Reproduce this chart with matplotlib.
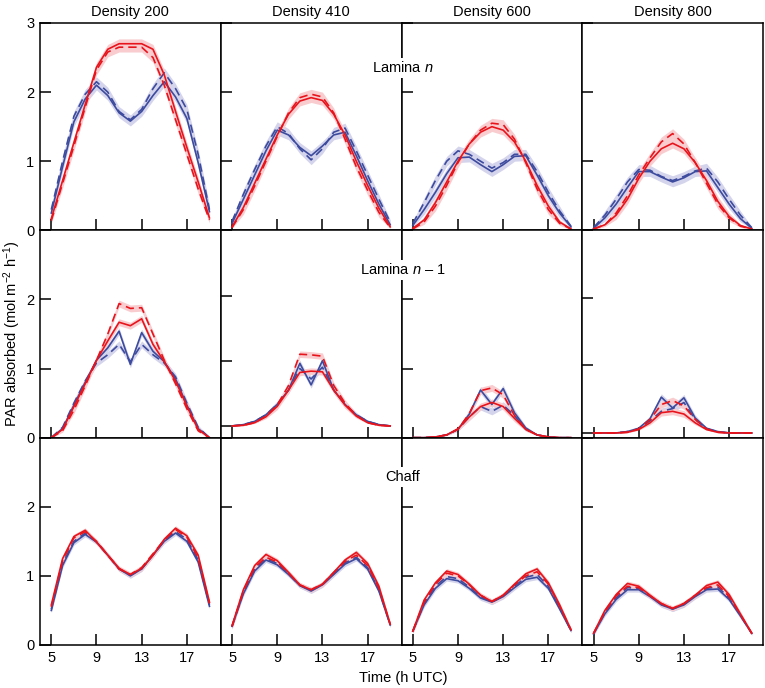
import numpy as np
import matplotlib
matplotlib.use("Agg")
import matplotlib.pyplot as plt

plt.rcParams['font.family'] = ['Liberation Sans', 'DejaVu Sans']
plt.rcParams['mathtext.fontset'] = 'custom'
plt.rcParams['mathtext.rm'] = 'Liberation Sans'
plt.rcParams['mathtext.it'] = 'Liberation Sans:italic'
plt.rcParams['font.size'] = 10.5

hours = list(range(5, 20))
densities = ['Density 200', 'Density 410', 'Density 600', 'Density 800']
row_labels = ['Lamina $n$', 'Lamina $n$ \u2013 1', 'Chaff']

# Lamina n, one list per density
lam_n_red = [
    [0.17, 0.72, 1.27, 1.82, 2.36, 2.62, 2.7, 2.7, 2.7, 2.62, 2.25, 1.72, 1.2, 0.7, 0.18],
    [0.05, 0.33, 0.68, 1.03, 1.38, 1.68, 1.87, 1.92, 1.88, 1.68, 1.38, 1.0, 0.65, 0.32, 0.05],
    [0.03, 0.15, 0.4, 0.7, 1.0, 1.25, 1.42, 1.5, 1.45, 1.28, 1.0, 0.65, 0.35, 0.12, 0.02],
    [0.02, 0.08, 0.22, 0.45, 0.75, 1.0, 1.18, 1.26, 1.18, 0.98, 0.72, 0.42, 0.2, 0.07, 0.02],
]
lam_n_red_dash = [
    [0.14, 0.68, 1.22, 1.78, 2.32, 2.58, 2.65, 2.65, 2.65, 2.5, 2.1, 1.6, 1.1, 0.6, 0.15],
    [0.04, 0.3, 0.64, 1.0, 1.36, 1.7, 1.92, 1.97, 1.93, 1.7, 1.32, 0.92, 0.58, 0.26, 0.04],
    [0.02, 0.12, 0.35, 0.65, 0.98, 1.25, 1.45, 1.55, 1.53, 1.32, 0.98, 0.6, 0.3, 0.1, 0.02],
    [0.02, 0.08, 0.25, 0.5, 0.8, 1.05, 1.28, 1.4, 1.25, 0.98, 0.68, 0.38, 0.18, 0.06, 0.02],
]
lam_n_blue = [
    [0.25, 0.92, 1.57, 1.9, 2.1, 1.95, 1.7, 1.58, 1.72, 1.95, 2.15, 1.93, 1.62, 0.98, 0.27],
    [0.1, 0.45, 0.8, 1.15, 1.45, 1.38, 1.2, 1.08, 1.22, 1.38, 1.42, 1.08, 0.72, 0.38, 0.08],
    [0.07, 0.3, 0.55, 0.82, 1.05, 1.06, 0.95, 0.85, 0.95, 1.07, 1.08, 0.8, 0.5, 0.25, 0.05],
    [0.03, 0.18, 0.38, 0.62, 0.85, 0.85, 0.77, 0.7, 0.76, 0.85, 0.86, 0.62, 0.38, 0.17, 0.03],
]
lam_n_blue_dash = [
    [0.3, 1.0, 1.65, 1.97, 2.15, 2.0, 1.72, 1.6, 1.75, 2.05, 2.28, 2.05, 1.75, 1.1, 0.3],
    [0.13, 0.52, 0.88, 1.22, 1.5, 1.4, 1.18, 1.02, 1.18, 1.42, 1.48, 1.15, 0.8, 0.45, 0.12],
    [0.1, 0.4, 0.72, 1.0, 1.15, 1.1, 1.0, 0.9, 0.98, 1.1, 1.1, 0.85, 0.55, 0.28, 0.06],
    [0.04, 0.22, 0.45, 0.7, 0.88, 0.87, 0.78, 0.72, 0.78, 0.86, 0.9, 0.7, 0.45, 0.22, 0.04],
]

# Lamina n-1
lam_n1_red = [
    [0, 0.12, 0.45, 0.78, 1.12, 1.4, 1.67, 1.62, 1.72, 1.35, 1.1, 0.82, 0.46, 0.12, 0],
    [0, 0.01, 0.05, 0.14, 0.3, 0.55, 0.82, 0.84, 0.83, 0.55, 0.32, 0.15, 0.05, 0.01, 0],
    [0, 0, 0.01, 0.04, 0.13, 0.3, 0.45, 0.51, 0.45, 0.28, 0.12, 0.04, 0.01, 0, 0],
    [0, 0, 0, 0.01, 0.05, 0.15, 0.3, 0.32, 0.28, 0.15, 0.05, 0.01, 0, 0, 0],
]
lam_n1_red_dash = [
    [0, 0.1, 0.4, 0.75, 1.12, 1.5, 1.94, 1.87, 1.88, 1.5, 1.12, 0.78, 0.42, 0.1, 0],
    [0, 0.01, 0.05, 0.15, 0.32, 0.62, 1.1, 1.09, 1.07, 0.62, 0.35, 0.16, 0.05, 0.01, 0],
    [0, 0, 0.01, 0.04, 0.12, 0.35, 0.68, 0.72, 0.62, 0.32, 0.12, 0.04, 0.01, 0, 0],
    [0, 0, 0, 0.01, 0.06, 0.2, 0.42, 0.48, 0.4, 0.2, 0.06, 0.01, 0, 0, 0],
]
lam_n1_blue = [
    [0, 0.13, 0.47, 0.8, 1.12, 1.3, 1.54, 1.06, 1.52, 1.25, 1.1, 0.85, 0.47, 0.13, 0],
    [0, 0.02, 0.07, 0.17, 0.33, 0.55, 0.96, 0.63, 1.0, 0.55, 0.33, 0.17, 0.07, 0.02, 0],
    [0, 0, 0.01, 0.04, 0.12, 0.34, 0.69, 0.48, 0.71, 0.36, 0.14, 0.04, 0.01, 0, 0],
    [0, 0, 0, 0.02, 0.07, 0.21, 0.53, 0.37, 0.52, 0.22, 0.07, 0.02, 0, 0, 0],
]
lam_n1_blue_dash = [
    [0, 0.15, 0.5, 0.82, 1.08, 1.2, 1.35, 1.1, 1.35, 1.2, 1.08, 0.88, 0.5, 0.15, 0],
    [0, 0.02, 0.07, 0.17, 0.33, 0.55, 0.88, 0.72, 0.9, 0.55, 0.33, 0.17, 0.07, 0.02, 0],
    [0, 0, 0.01, 0.04, 0.12, 0.3, 0.45, 0.38, 0.47, 0.32, 0.12, 0.04, 0.01, 0, 0],
    [0, 0, 0, 0.02, 0.06, 0.18, 0.32, 0.36, 0.45, 0.2, 0.06, 0.02, 0, 0, 0],
]

# Chaff
chaff_red = [
    [0.58, 1.25, 1.57, 1.66, 1.49, 1.3, 1.11, 1.02, 1.11, 1.3, 1.53, 1.69, 1.58, 1.3, 0.62],
    [0.28, 0.8, 1.15, 1.31, 1.22, 1.05, 0.87, 0.8, 0.88, 1.05, 1.23, 1.34, 1.18, 0.85, 0.3],
    [0.2, 0.65, 0.9, 1.07, 1.02, 0.88, 0.72, 0.63, 0.72, 0.88, 1.03, 1.1, 0.9, 0.58, 0.22],
    [0.17, 0.5, 0.73, 0.89, 0.85, 0.72, 0.6, 0.53, 0.6, 0.72, 0.86, 0.91, 0.73, 0.45, 0.17],
]
chaff_red_dash = [
    [0.55, 1.22, 1.55, 1.64, 1.5, 1.3, 1.1, 1.02, 1.12, 1.32, 1.52, 1.67, 1.56, 1.26, 0.6],
    [0.27, 0.78, 1.12, 1.27, 1.2, 1.04, 0.87, 0.8, 0.88, 1.05, 1.21, 1.3, 1.15, 0.82, 0.3],
    [0.2, 0.62, 0.88, 1.04, 1.0, 0.87, 0.72, 0.63, 0.72, 0.87, 1.0, 1.06, 0.88, 0.56, 0.22],
    [0.17, 0.48, 0.71, 0.85, 0.83, 0.71, 0.6, 0.53, 0.6, 0.72, 0.83, 0.87, 0.7, 0.44, 0.17],
]
chaff_blue = [
    [0.5, 1.15, 1.48, 1.6, 1.49, 1.3, 1.1, 1.0, 1.1, 1.3, 1.5, 1.62, 1.5, 1.2, 0.56],
    [0.27, 0.74, 1.07, 1.23, 1.16, 1.02, 0.86, 0.78, 0.87, 1.02, 1.17, 1.25, 1.1, 0.78, 0.29],
    [0.2, 0.58, 0.82, 0.96, 0.93, 0.82, 0.68, 0.62, 0.7, 0.83, 0.95, 0.98, 0.82, 0.52, 0.21],
    [0.16, 0.45, 0.66, 0.8, 0.8, 0.7, 0.58, 0.52, 0.58, 0.7, 0.8, 0.81, 0.66, 0.42, 0.17],
]
chaff_blue_dash = [
    [0.52, 1.18, 1.5, 1.62, 1.49, 1.3, 1.1, 1.01, 1.1, 1.3, 1.51, 1.64, 1.53, 1.23, 0.58],
    [0.27, 0.76, 1.09, 1.25, 1.18, 1.03, 0.86, 0.79, 0.87, 1.03, 1.19, 1.27, 1.12, 0.8, 0.29],
    [0.2, 0.6, 0.85, 0.99, 0.96, 0.84, 0.7, 0.62, 0.71, 0.85, 0.98, 1.02, 0.85, 0.54, 0.21],
    [0.16, 0.47, 0.68, 0.83, 0.82, 0.71, 0.59, 0.52, 0.59, 0.71, 0.82, 0.84, 0.68, 0.43, 0.17],
]

rows = [
    (lam_n_red, lam_n_red_dash, lam_n_blue, lam_n_blue_dash),
    (lam_n1_red, lam_n1_red_dash, lam_n1_blue, lam_n1_blue_dash),
    (chaff_red, chaff_red_dash, chaff_blue, chaff_blue_dash),
]

RED = '#e8141c'
BLUE = '#3d4b9e'
RED_BAND = '#f9cdd0'
BLUE_BAND = '#d4d4ec'
row_pad = [0.07, 0.05, 0.035]

# the lamina n-1 panels at 410 and 800 sit slightly lower in the original
ylims_row2 = [(0, 3), (-0.18, 3), (0, 3), (-0.07, 3)]

fig, axes = plt.subplots(3, 4, figsize=(7.65, 6.88), dpi=100,
                         gridspec_kw=dict(hspace=0, wspace=0))
fig.subplots_adjust(left=40 / 765, right=763 / 765, top=1 - 23 / 688, bottom=1 - 645 / 688)

x = np.array(hours)
for r, (red, red_d, blue, blue_d) in enumerate(rows):
    for c in range(4):
        ax = axes[r, c]
        # shaded spread round each curve, thinning out where the curve is near zero
        for s, band in [(blue, BLUE_BAND), (blue_d, BLUE_BAND), (red, RED_BAND), (red_d, RED_BAND)]:
            a = np.array(s[c])
            pad = row_pad[r] * np.clip(a / 0.25, 0.15, 1)
            ax.fill_between(x, a - pad, a + pad, color=band, lw=0)
        ax.plot(x, blue[c], color=BLUE, lw=1.2)
        ax.plot(x, blue_d[c], color=BLUE, lw=1.2, ls=(0, (5, 3)))
        ax.plot(x, red[c], color=RED, lw=1.2)
        ax.plot(x, red_d[c], color=RED, lw=1.2, ls=(0, (5, 3)))

        ax.set_xlim(4, 20)
        ax.set_ylim(ylims_row2[c] if r == 1 else (0, 3))
        ax.set_xticks([5, 9, 13, 17])
        ax.set_yticks([0, 1, 2, 3])
        ax.tick_params(direction='in', length=8, width=1.1, top=False, right=False,
                       labelsize=10.5, pad=4)
        for sp in ax.spines.values():
            sp.set_linewidth(1.1)
        if c == 0:
            ax.set_yticklabels(['0', '1', '2', '3'] if r == 0 else ['0', '1', '2', ''])
        else:
            ax.set_yticklabels([])
        if r < 2:
            ax.set_xticklabels([])
        if r == 0:
            ax.set_title(densities[c], fontsize=10.5, pad=5)

label_y = [68, 270, 477]
for lab, yy in zip(row_labels, label_y):
    fig.text(403 / 765, 1 - yy / 688, lab, ha='center', va='center', fontsize=10.5,
             bbox=dict(facecolor='white', edgecolor='none', pad=2))

fig.text(12 / 765, 1 - 334 / 688, 'PAR absorbed (mol m$^{-2}$ h$^{-1}$)',
         rotation=90, ha='center', va='center', fontsize=10.5)
fig.text(403 / 765, 1 - 678 / 688, 'Time (h UTC)', ha='center', va='center', fontsize=10.5)

fig.savefig('out.png', dpi=100)
